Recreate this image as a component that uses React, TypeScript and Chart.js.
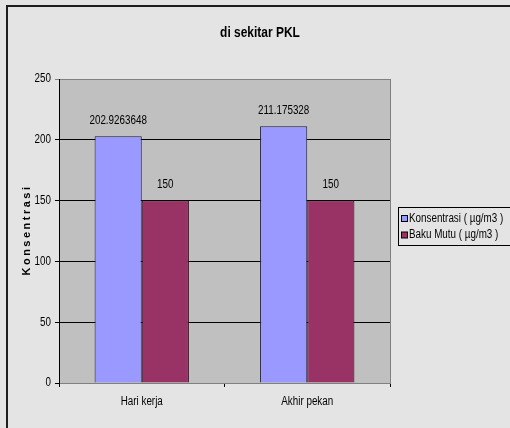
import React, { useEffect, useRef } from "react";
import { Chart, registerables } from "chart.js";

Chart.register(...registerables);

const chartTitle = "di sekitar PKL";
const yAxisTitle = "Konsentrasi";
const categories = ["Hari kerja", "Akhir pekan"];
const konsentrasi = [202.9263648, 211.175328];
const bakuMutu = [150, 150];
const seriesNames = ["Konsentrasi ( µg/m3 )", "Baku Mutu ( µg/m3 )"];
const yTicks = [0, 50, 100, 150, 200, 250];

const SANS = "'Liberation Sans', Arial, sans-serif";
const NARROW_SCALE = 0.82;

function narrowText(ctx: any, text: string, x: number, y: number, align: string, size = 12) {
  ctx.save();
  ctx.font = `${size}px ${SANS}`;
  ctx.textAlign = align;
  ctx.textBaseline = "middle";
  ctx.translate(x, y);
  ctx.scale(NARROW_SCALE, 1);
  ctx.fillText(text, 0, 0);
  ctx.restore();
}

const decorPlugin = {
  id: "decor",
  beforeDraw(chart: any) {
    const { ctx, chartArea } = chart;
    ctx.save();
    ctx.fillStyle = "#e4e4e4";
    ctx.fillRect(0, 0, chart.width, chart.height);
    ctx.fillStyle = "#c0c0c0";
    ctx.fillRect(chartArea.left, chartArea.top, chartArea.right - chartArea.left, chartArea.bottom - chartArea.top);
    ctx.fillStyle = "#1e1e1e";
    ctx.fillRect(6, 5, chart.width - 6, 2);
    ctx.fillRect(6, 5, 2, chart.height - 5);
    ctx.restore();
  },
  afterDraw(chart: any) {
    const { ctx, chartArea, scales } = chart;
    ctx.save();
    ctx.strokeStyle = "#808080";
    ctx.lineWidth = 1;
    ctx.beginPath();
    ctx.moveTo(chartArea.right + 0.5, chartArea.top);
    ctx.lineTo(chartArea.right + 0.5, chartArea.bottom);
    ctx.stroke();

    ctx.fillStyle = "#000";
    // title
    ctx.font = `bold 13px ${SANS}`;
    ctx.textAlign = "center";
    ctx.textBaseline = "middle";
    ctx.save();
    ctx.translate(260, 33);
    ctx.scale(0.92, 1.1);
    ctx.fillText(chartTitle, 0, 0);
    ctx.restore();

    // y axis title
    ctx.save();
    ctx.translate(27, (chartArea.top + chartArea.bottom) / 2);
    ctx.rotate(-Math.PI / 2);
    ctx.font = `bold 11px ${SANS}`;
    (ctx as any).letterSpacing = "2.5px";
    ctx.textAlign = "center";
    ctx.textBaseline = "middle";
    ctx.fillText(yAxisTitle, 1, 0);
    ctx.restore();

    // y tick labels
    scales.y.ticks.forEach((t: any) => {
      narrowText(ctx, String(t.value), 51, scales.y.getPixelForValue(t.value), "right");
    });
    // x tick labels
    chart.data.labels.forEach((lab: string, i: number) => {
      narrowText(ctx, lab, scales.x.getPixelForValue(i), 402, "center");
    });

    // data labels
    chart.data.datasets.forEach((ds: any, di: number) => {
      const meta = chart.getDatasetMeta(di);
      meta.data.forEach((bar: any, i: number) => {
        narrowText(ctx, String(ds.data[i]), bar.x, bar.y - 16, "center");
      });
    });

    // legend
    ctx.strokeStyle = "#000";
    ctx.lineWidth = 1;
    ctx.strokeRect(398.5, 207.5, 130, 38);
    chart.data.datasets.forEach((ds: any, di: number) => {
      const cy = 218.5 + di * 16.5;
      ctx.fillStyle = ds.backgroundColor;
      ctx.fillRect(401.5, cy - 3, 6, 6);
      ctx.strokeStyle = "#000";
      ctx.strokeRect(401.5, cy - 3, 6, 6);
      ctx.fillStyle = "#000";
      narrowText(ctx, ds.label, 409, cy, "left");
    });
    ctx.restore();
  },
};

export default function App() {
  const ref = useRef<HTMLCanvasElement>(null);
  useEffect(() => {
    document.body.style.margin = "0";
    const chart = new Chart(ref.current!, {
      type: "bar",
      data: {
        labels: categories,
        datasets: [
          {
            label: seriesNames[0],
            data: konsentrasi,
            backgroundColor: "#9999ff",
            borderColor: "#1a1a3a",
            borderWidth: 1,
          },
          {
            label: seriesNames[1],
            data: bakuMutu,
            backgroundColor: "#993366",
            borderColor: "#2a0a1a",
            borderWidth: 1,
          },
        ],
      },
      options: {
        responsive: false,
        animation: false,
        devicePixelRatio: 1,
        layout: { padding: { left: 0, top: 79, right: 120, bottom: 0 } },
        datasets: { bar: { categoryPercentage: 0.57, barPercentage: 1 } },
        plugins: {
          legend: { display: false },
          title: { display: false },
          tooltip: { enabled: false },
        },
        scales: {
          x: {
            offset: true,
            grid: { drawOnChartArea: false, tickLength: 4, color: "#000", offset: true },
            border: { color: "#808080" },
            ticks: { color: "rgba(0,0,0,0)", font: { family: SANS, size: 12 }, padding: 8 },
            afterFit: (s: any) => { s.height = 45; },
          },
          y: {
            min: 0,
            max: 250,
            afterBuildTicks: (s: any) => { s.ticks = yTicks.map((v) => ({ value: v })); },
            grid: {
              tickLength: 4,
              color: (c: any) => (c.tick && c.tick.value === 250 ? "#808080" : "#000"),
            },
            border: { color: "#000" },
            ticks: { color: "rgba(0,0,0,0)", font: { family: SANS, size: 12 }, padding: 3 },
            afterFit: (s: any) => { s.width = 59; },
          },
        },
      },
      plugins: [decorPlugin],
    });
    return () => chart.destroy();
  }, []);
  return (
    <div style={{ position: "absolute", left: 0, top: 0, width: 510, height: 428 }}>
      <canvas ref={ref} width={510} height={428} />
    </div>
  );
}
